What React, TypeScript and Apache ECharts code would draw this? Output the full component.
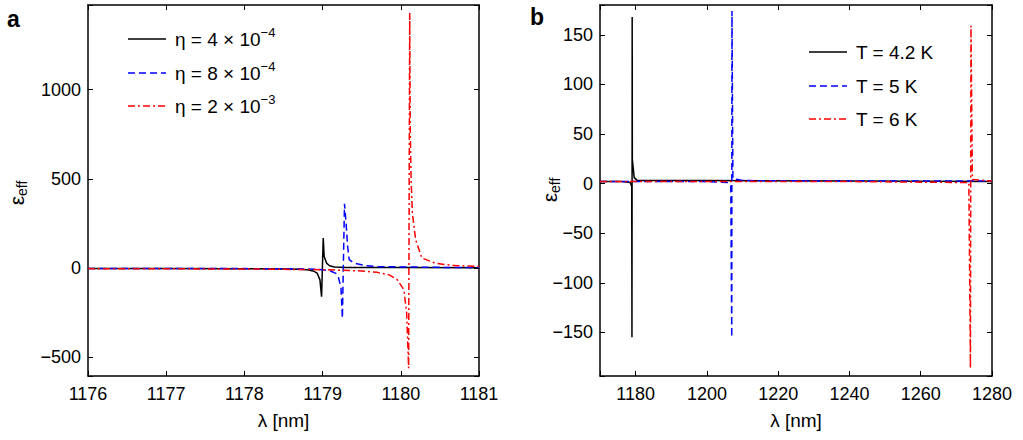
import React, { useEffect, useRef } from 'react';
import * as echarts from 'echarts';

const FONT = '"Liberation Sans", Arial, Helvetica, sans-serif';

// Panel a: effective permittivity vs wavelength for three eta values
const xRangeA = [1176, 1181];
const yRangeA = [-605, 1475];
const etaMantissa = ['4', '8', '2'];
const etaExponent = ['−4', '−4', '−3'];

const aBlack = [
  [1176.0, -3], [1177.0, -3], [1178.0, -4], [1178.5, -5], [1178.7, -7], [1178.8, -9],
  [1178.88, -16], [1178.93, -28], [1178.966, -66], [1178.987, -160], [1179.008, 168],
  [1179.02, 65], [1179.05, 28], [1179.09, 13], [1179.15, 6], [1179.3, 4], [1180.0, 3], [1181.0, 2],
];
const aBlue = [
  [1176.0, -2], [1178.0, -3], [1178.8, -5], [1179.0, -9], [1179.1, -16], [1179.17, -30],
  [1179.2, -47], [1179.235, -110], [1179.253, -281], [1179.28, 361], [1179.3, 253],
  [1179.32, 121], [1179.34, 47], [1179.4, 28], [1179.55, 13], [1179.72, 8], [1180.5, 4], [1181.0, 3],
];
const aRed = [
  [1176.0, -3], [1178.0, -5], [1179.0, -9], [1179.5, -16], [1179.7, -24], [1179.85, -38],
  [1179.957, -66], [1180.04, -122], [1180.075, -252], [1180.1, -562], [1180.114, 1430],
  [1180.12, 800], [1180.132, 496], [1180.148, 309], [1180.19, 159], [1180.27, 56],
  [1180.44, 28], [1180.65, 15], [1180.94, 10], [1181.0, 9],
];

// Panel b: effective permittivity vs wavelength for three temperatures
const xRangeB = [1170, 1280];
const yRangeB = [-194, 180];
const tempLabels = ['T = 4.2 K', 'T = 5 K', 'T = 6 K'];

const bBlack = [
  [1170, 2], [1176, 2], [1178.5, 1], [1178.9, -3], [1178.97, -155], [1179.03, 168],
  [1179.08, 24], [1179.6, 6], [1180.5, 3], [1200, 3], [1240, 2.5], [1280, 2],
];
const bBlue = [
  [1170, 2], [1200, 2], [1206, 1], [1206.7, -3], [1206.97, -155], [1207.03, 174],
  [1207.3, 5], [1210, 3], [1240, 2.5], [1280, 2.5],
];
const bRed = [
  [1170, 2], [1240, 2], [1273.5, 1], [1273.95, -186], [1274.1, 159], [1274.5, 4], [1280, 2.5],
];

const colors = ['#000000', '#0000ff', '#ff0000'];
const dashTypes: any[] = ['solid', [7, 4], [7, 3, 2, 3]];

const fmtNum = (v: number) => (v < 0 ? '\u2212' + Math.abs(v) : String(v));

function makeAxes(gridIndex: number, xr: number[], yr: number[], xStep: number, yStep: number, xSplit: number, ySplit: number) {
  const line = { show: true, onZero: false, lineStyle: { color: '#000', width: 1.5 } };
  const tick = { show: true, inside: true, length: 5, lineStyle: { color: '#000', width: 1 } };
  const label = { color: '#000', fontSize: 18, fontFamily: FONT };
  const xAxes = [
    {
      type: 'value', gridIndex, min: xr[0], max: xr[1], splitNumber: xSplit,
      axisLine: line, axisTick: tick, splitLine: { show: false },
      axisLabel: { ...label, margin: 9, formatter: (v: number) => (Math.round(v) % xStep === 0 ? fmtNum(v) : '') },
      name: 'λ [nm]', nameLocation: 'middle', nameGap: 35,
      nameTextStyle: { color: '#000', fontSize: 19, fontFamily: FONT },
    },
    {
      type: 'value', gridIndex, position: 'top', min: xr[0], max: xr[1], splitNumber: xSplit,
      axisLine: line, axisTick: tick, splitLine: { show: false }, axisLabel: { show: false },
    },
  ];
  const yAxes = [
    {
      type: 'value', gridIndex, min: yr[0], max: yr[1], splitNumber: ySplit,
      axisLine: line, axisTick: tick, splitLine: { show: false },
      axisLabel: { ...label, margin: 7, formatter: (v: number) => (Math.round(v) % yStep === 0 ? fmtNum(v) : '') },
    },
    {
      type: 'value', gridIndex, position: 'right', min: yr[0], max: yr[1], splitNumber: ySplit,
      axisLine: line, axisTick: tick, splitLine: { show: false }, axisLabel: { show: false },
    },
  ];
  return { xAxes, yAxes };
}

function legendGraphics(x0: number, rows: number[], texts: string[]) {
  const els: any[] = [];
  rows.forEach((y, i) => {
    els.push({
      type: 'line', shape: { x1: x0, y1: y, x2: x0 + 38, y2: y },
      style: { stroke: colors[i], lineWidth: 1.4, lineDash: dashTypes[i] === 'solid' ? null : dashTypes[i] },
    });
    els.push({
      type: 'text', x: x0 + 47, y,
      style: {
        text: texts[i], fontSize: 19, fontFamily: FONT, fill: '#000',
        verticalAlign: 'middle', align: 'left',
        rich: {
          m: { fontSize: 19, fontFamily: FONT, lineHeight: 26, fill: '#000' },
          s: { fontSize: 13, fontFamily: FONT, lineHeight: 13, verticalAlign: 'top', fill: '#000' },
        },
      },
    });
  });
  return els;
}

function epsLabel(x: number, y: number) {
  return {
    type: 'text', x, y, rotation: Math.PI / 2,
    style: {
      text: '{m|ε}{s|eff}', align: 'center', verticalAlign: 'middle',
      rich: {
        m: { fontSize: 21, fontFamily: FONT, lineHeight: 26, fill: '#000' },
        s: { fontSize: 14, fontFamily: FONT, lineHeight: 14, verticalAlign: 'bottom', fill: '#000' },
      },
    },
  };
}

export default function App() {
  const ref = useRef<HTMLDivElement>(null);
  useEffect(() => {
    document.body.style.margin = '0';
    if (!ref.current) return;
    const chart = echarts.init(ref.current, undefined, { renderer: 'svg' });
    const A = makeAxes(0, xRangeA, yRangeA, 1, 500, 5, 5);
    const B = makeAxes(1, xRangeB, yRangeB, 20, 50, 5, 7);
    const mk = (data: number[][], i: number, xi: number, yi: number) => ({
      type: 'line', xAxisIndex: xi, yAxisIndex: yi, data, showSymbol: false, symbol: 'none',
      lineStyle: { color: colors[i], width: 1.5, type: dashTypes[i] }, clip: true, z: 3 + i,
    });
    const etaTexts = etaMantissa.map((m, i) => `{m|η = ${m} × 10}{s|${etaExponent[i]}}`);
    const tTexts = tempLabels.map((t) => `{m|${t}}`);
    chart.setOption({
      animation: false,
      backgroundColor: '#fff',
      grid: [
        { left: 88, right: 544, top: 5, bottom: 64 },
        { left: 600, right: 31, top: 5, bottom: 64 },
      ],
      xAxis: [...A.xAxes, ...B.xAxes],
      yAxis: [...A.yAxes, ...B.yAxes],
      series: [
        mk(aBlack, 0, 0, 0), mk(aBlue, 1, 0, 0), mk(aRed, 2, 0, 0),
        mk(bBlack, 0, 2, 2), mk(bBlue, 1, 2, 2), mk(bRed, 2, 2, 2),
      ],
      graphic: [
        { type: 'text', x: 7, y: 7, style: { text: 'a', fontSize: 23, fontWeight: 'bold', fontFamily: FONT, fill: '#000' } },
        { type: 'text', x: 530, y: 5, style: { text: 'b', fontSize: 23, fontWeight: 'bold', fontFamily: FONT, fill: '#000' } },
        epsLabel(16, 193),
        epsLabel(549, 190),
        ...legendGraphics(128, [39, 73, 106], etaTexts),
        ...legendGraphics(809, [52, 86, 119], tTexts),
      ],
    });
    return () => chart.dispose();
  }, []);
  return <div ref={ref} style={{ width: 1023, height: 440 }} />;
}
